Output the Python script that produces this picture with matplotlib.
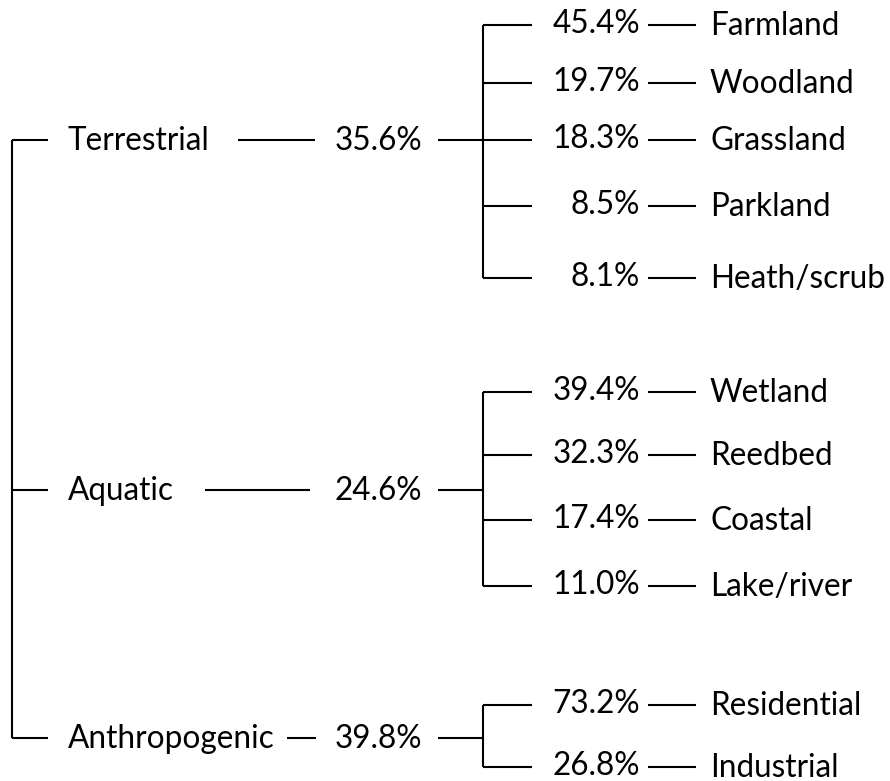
import matplotlib.pyplot as plt

# data
groups = ['Terrestrial', 'Aquatic', 'Anthropogenic']
group_pct = [35.6, 24.6, 39.8]
sub_labels = [['Farmland', 'Woodland', 'Grassland', 'Parkland', 'Heath/scrub'],
              ['Wetland', 'Reedbed', 'Coastal', 'Lake/river'],
              ['Residential', 'Industrial']]
sub_pct = [[45.4, 19.7, 18.3, 8.5, 8.1],
           [39.4, 32.3, 17.4, 11.0],
           [73.2, 26.8]]

# layout (pixel coords)
group_y = [140, 490, 738]
sub_y = [[25, 83, 140, 206, 278],
         [392, 455, 520, 586],
         [705, 767]]
grp_line = [(238, 315), (205, 310), (287, 316)]

plt.rcParams['font.family'] = ['Lato', 'DejaVu Sans']
fig = plt.figure(figsize=(8.9, 7.81), dpi=100)
ax = fig.add_axes([0, 0, 1, 1])
ax.set_xlim(0, 890)
ax.set_ylim(781, 0)
ax.axis('off')

lw = 1.5
fs = 22.7
kw = dict(color='black', lw=lw, solid_capstyle='butt')

# trunk
ax.plot([12, 12], [group_y[0], group_y[-1]], **kw)
for g, (name, pct) in enumerate(zip(groups, group_pct)):
    y = group_y[g]
    ax.plot([12, 48], [y, y], **kw)
    ax.text(68, y + 1, name, fontsize=fs, va='center', ha='left')
    x0, x1 = grp_line[g]
    ax.plot([x0, x1], [y, y], **kw)
    ax.text(422, y + 1, '%.1f%%' % pct, fontsize=fs, va='center', ha='right')
    ax.plot([438, 483], [y, y], **kw)
    ys = sub_y[g]
    ax.plot([483, 483], [ys[0], ys[-1]], **kw)
    for lab, p, yy in zip(sub_labels[g], sub_pct[g], ys):
        ax.plot([483, 532], [yy, yy], **kw)
        ax.text(640, yy - 1, '%.1f%%' % p, fontsize=fs, va='center', ha='right')
        ax.plot([648, 696], [yy, yy], **kw)
        ax.text(710, yy + 1, lab, fontsize=fs, va='center', ha='left')

fig.savefig('out.png', dpi=100, facecolor='white')
